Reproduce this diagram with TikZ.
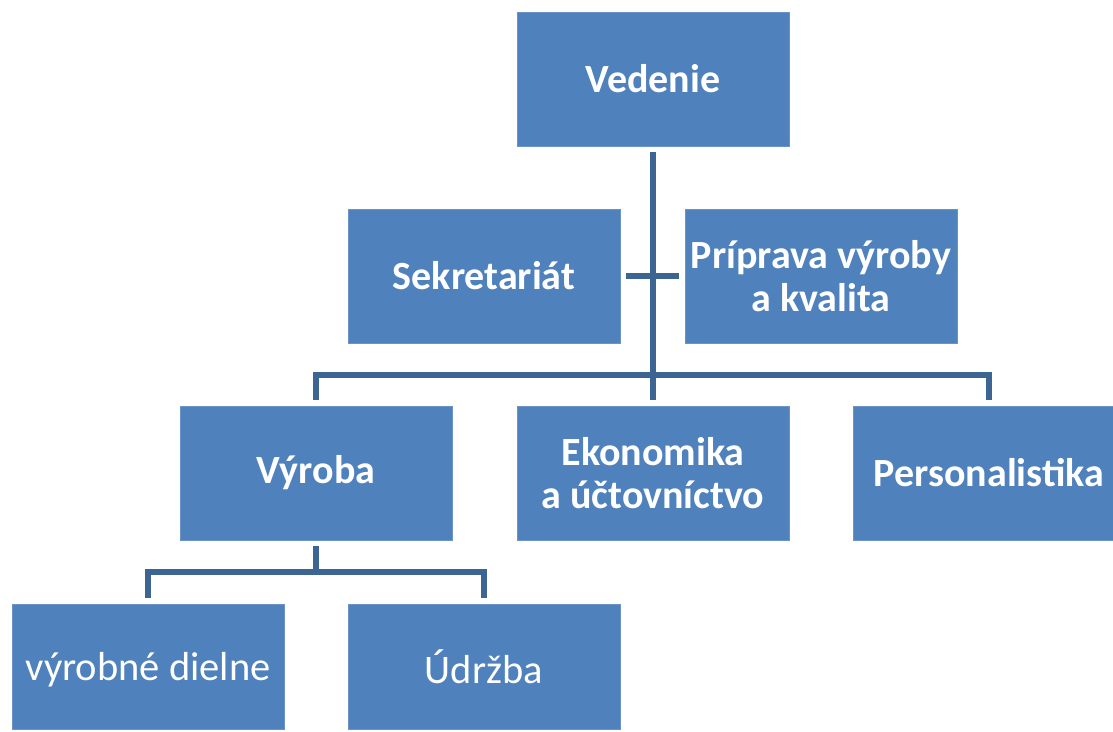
\documentclass[tikz,border=0pt]{standalone}
\usepackage{fontspec}
\setmainfont{Carlito}
\definecolor{boxblue}{HTML}{4F81BD}
\definecolor{linkblue}{HTML}{3D6594}
\begin{document}
\begin{tikzpicture}[x=1pt,y=-1pt,
  box/.style={fill=boxblue, draw=boxblue!85!white, line width=0.8pt,
    minimum width=272pt, minimum height=134pt, inner sep=0pt, outer sep=6pt,
    text=white, align=center, font=\fontsize{40}{43}\selectfont\bfseries},
  lbox/.style={box, minimum height=125pt, text depth=0pt, font=\fontsize{40.5}{43}\selectfont},
  link/.style={draw=linkblue, line width=5.2pt}]
\useasboundingbox (0,0) rectangle (1113,731);
\clip (0,0) rectangle (1113,731);
\node[box] (ved) at (653,79) {Vedenie};
\node[box] (sek) at (484,276) {Sekretariát};
\node[box] (pri) at (821,276) {Príprava výroby\\a kvalita};
\node[box] (vyr) at (316,473) {Výroba};
\node[box] (eko) at (653,473) {Ekonomika\\a účtovníctvo};
\node[box] (per) at (989,473) {Personalistika};
\node[lbox] (die) at (148,666.5) {výrobné dielne};
\node[lbox] (udr) at (484,666.5) {Údržba};
\coordinate (j1) at (653,375);
\coordinate (j2) at (316,572);
\draw[link] (ved.south) -- (j1);
\draw[link] (sek.east) -- (pri.west);
\draw[link] (vyr.north) |- (j1) -| (per.north);
\draw[link] (j1) -- (eko.north);
\draw[link] (vyr.south) -- (j2);
\draw[link] (die.north) |- (j2) -| (udr.north);
\end{tikzpicture}
\end{document}
